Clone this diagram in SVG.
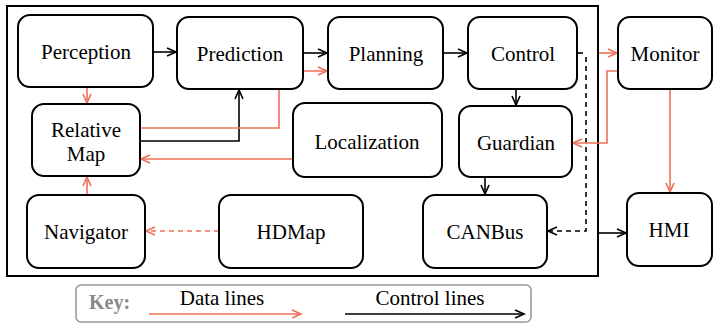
<svg xmlns="http://www.w3.org/2000/svg" width="714" height="327" viewBox="0 0 714 327" font-family="Liberation Serif, serif">
<defs>
<marker id="ab" markerUnits="userSpaceOnUse" markerWidth="12" markerHeight="12" refX="10" refY="5" orient="auto"><path d="M1,1 L10,5 L1,9" fill="none" stroke="#000" stroke-width="1.6"/></marker>
<marker id="ar" markerUnits="userSpaceOnUse" markerWidth="12" markerHeight="12" refX="10" refY="5" orient="auto"><path d="M1,1 L10,5 L1,9" fill="none" stroke="#EE7157" stroke-width="1.6"/></marker>
</defs>
<style>
.n{fill:#fff;stroke:#000;stroke-width:2}
.t{font-size:21px;fill:#000;text-anchor:middle}
.b{fill:none;stroke:#000;stroke-width:1.6}
.r{fill:none;stroke:#EE7157;stroke-width:1.6}
.d{stroke-dasharray:5,4}
</style>
<rect width="714" height="327" fill="#fff"/>
<rect id="frame" x="7" y="6" width="591" height="270" fill="none" stroke="#000" stroke-width="2"/>
<g id="connectors">
<path class="b" d="M153,52 H176" marker-end="url(#ab)"/>
<path class="b" d="M303,53 H327" marker-end="url(#ab)"/>
<path class="b" d="M443,53 H467" marker-end="url(#ab)"/>
<path class="r" d="M599,53 H617" marker-end="url(#ar)"/>
<path class="b" d="M577,53 H583"/>
<path class="b d" d="M586,57 V231 H548" marker-end="url(#ab)"/>
<path class="r" d="M617,71 H607 V143 H573" marker-end="url(#ar)"/>
<path class="r" d="M670,89 V192" marker-end="url(#ar)"/>
<path class="b" d="M516,89 V105" marker-end="url(#ab)"/>
<path class="b" d="M485,177 V194" marker-end="url(#ab)"/>
<path class="b" d="M598,233 H626" marker-end="url(#ab)"/>
<path class="r" d="M87,87 V103" marker-end="url(#ar)"/>
<path class="b" d="M140,141 H239 V90" marker-end="url(#ab)"/>
<path class="r" d="M140,128 H279 V71 H327" marker-end="url(#ar)"/>
<path class="r" d="M293,159 H141" marker-end="url(#ar)"/>
<path class="r" d="M87,195 V177" marker-end="url(#ar)"/>
<path class="r d" d="M219,231 H146" marker-end="url(#ar)"/>
</g>
<g id="perception"><rect class="n" x="18" y="15" width="135" height="72" rx="12"/><text class="t" x="86" y="59">Perception</text></g>
<g id="prediction"><rect class="n" x="177" y="17" width="126" height="72" rx="12"/><text class="t" x="240" y="61">Prediction</text></g>
<g id="planning"><rect class="n" x="328" y="17" width="115" height="72" rx="12"/><text class="t" x="386" y="61">Planning</text></g>
<g id="control"><rect class="n" x="468" y="17" width="109" height="72" rx="12"/><text class="t" x="523" y="61">Control</text></g>
<g id="monitor"><rect class="n" x="618" y="17" width="94" height="72" rx="12"/><text class="t" x="665" y="61">Monitor</text></g>
<g id="relativemap"><rect class="n" x="32" y="104" width="108" height="72" rx="12"/><text class="t" x="86" y="137">Relative</text><text class="t" x="86" y="161">Map</text></g>
<g id="localization"><rect class="n" x="293" y="103" width="149" height="74" rx="12"/><text class="t" x="367" y="149">Localization</text></g>
<g id="guardian"><rect class="n" x="459" y="106" width="113" height="71" rx="12"/><text class="t" x="516" y="150">Guardian</text></g>
<g id="navigator"><rect class="n" x="27" y="195" width="118" height="73" rx="12"/><text class="t" x="86" y="239">Navigator</text></g>
<g id="hdmap"><rect class="n" x="219" y="195" width="144" height="73" rx="12"/><text class="t" x="291" y="239">HDMap</text></g>
<g id="canbus"><rect class="n" x="423" y="195" width="124" height="73" rx="12"/><text class="t" x="485" y="239">CANBus</text></g>
<g id="hmi"><rect class="n" x="627" y="193" width="85" height="73" rx="12"/><text class="t" x="669" y="237">HMI</text></g>
<g id="key">
<rect x="76" y="285" width="455" height="37" rx="5" fill="#fff" stroke="#999" stroke-width="1.6"/>
<text x="89" y="309" font-size="20" font-weight="bold" fill="#888">Key:</text>
<text class="t" x="222" y="305">Data lines</text>
<path class="r" d="M149,314 H301" marker-end="url(#ar)"/>
<text class="t" x="430" y="305">Control lines</text>
<path class="b" d="M345,314 H524" marker-end="url(#ab)"/>
</g>
</svg>
